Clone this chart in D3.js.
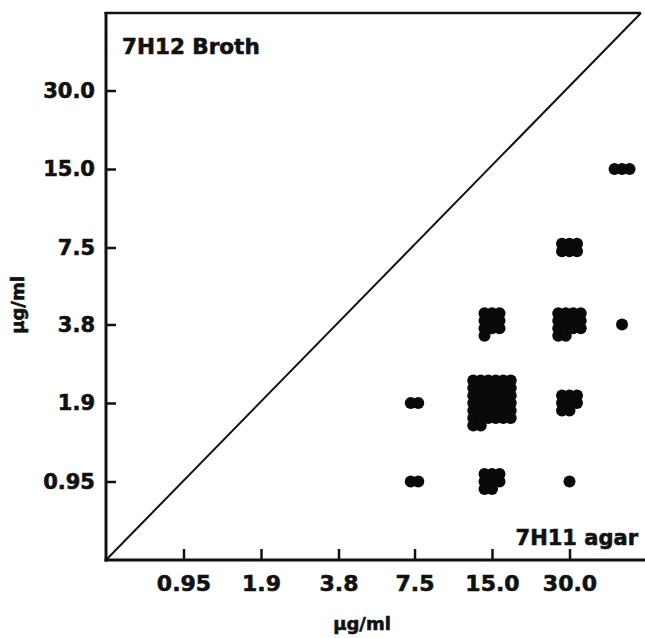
<!DOCTYPE html>
<html>
<head>
<meta charset="utf-8">
<script src="https://cdn.jsdelivr.net/npm/d3@7"></script>
<style>
  html, body { margin: 0; padding: 0; background: #fff; }
  svg { display: block; }
  text { font-family: "DejaVu Sans", "Liberation Sans", Arial, sans-serif; font-weight: bold; fill: #111; stroke: #111; stroke-width: 0.6px; }
</style>
</head>
<body>
<svg id="chart" width="645" height="638"></svg>
<script>
// ---- data ----
const tickValues = [0.95, 1.9, 3.8, 7.5, 15, 30];
const tickLabels = ["0.95", "1.9", "3.8", "7.5", "15.0", "30.0"];
// MIC pairs: agar (7H11) vs broth (7H12); 48 stands for ">30" on the agar axis
const agarMIC  = [7.5, 7.5, 15, 15, 15, 30, 30, 30, 30, 48, 48];
const brothMIC = [0.95, 1.9, 0.95, 1.9, 3.8, 0.95, 1.9, 3.8, 7.5, 3.8, 15];
const counts   = [2, 2, 8, 38, 10, 1, 8, 14, 6, 1, 3];
const gridCols = [2, 2, 3, 6, 3, 1, 3, 4, 3, 1, 3];

// ---- layout ----
const W = 645;
const plotL = 106, plotR = 641, plotT = 13, plotB = 560;
const svg = d3.select("#chart");

const x = d3.scaleLog().base(2).domain([0.475, 60]).range([106, 647]);
const y = d3.scaleLog().base(2).domain([0.475, 60]).range([560, 12]);

// frame
svg.append("line").attr("x1", plotL).attr("x2", plotL).attr("y1", plotT - 1).attr("y2", plotB + 1.5)
  .attr("stroke", "#111").attr("stroke-width", 3);
svg.append("line").attr("x1", plotL - 1.5).attr("x2", W).attr("y1", plotB).attr("y2", plotB)
  .attr("stroke", "#111").attr("stroke-width", 3);
svg.append("line").attr("x1", plotL - 1.5).attr("x2", plotR).attr("y1", plotT).attr("y2", plotT)
  .attr("stroke", "#111").attr("stroke-width", 2.5);
// diagonal
svg.append("line").attr("x1", plotL).attr("y1", plotB).attr("x2", plotR).attr("y2", plotT)
  .attr("stroke", "#111").attr("stroke-width", 2);

// axes
const xAxis = d3.axisBottom(x).tickValues(tickValues)
  .tickFormat((d, i) => tickLabels[i]).tickSizeInner(-11).tickSizeOuter(0).tickPadding(15);
const gx = svg.append("g").attr("transform", `translate(0,${plotB})`).call(xAxis);
gx.select(".domain").remove();
gx.selectAll(".tick line").attr("stroke", "#111").attr("stroke-width", 2.5);
gx.selectAll(".tick text").style("font-size", "22px").attr("fill", "#111");

const yAxis = d3.axisLeft(y).tickValues(tickValues)
  .tickFormat((d, i) => tickLabels[i]).tickSizeInner(-10).tickSizeOuter(0).tickPadding(11);
const gy = svg.append("g").attr("transform", `translate(${plotL},0)`).call(yAxis);
gy.select(".domain").remove();
gy.selectAll(".tick line").attr("stroke", "#111").attr("stroke-width", 2.5);
gy.selectAll(".tick text").style("font-size", "21px").attr("fill", "#111");

// points: each MIC pair drawn as a compact grid of dots
const step = 7.5, r = 6;
const dots = [];
agarMIC.forEach((a, k) => {
  const n = counts[k], cols = gridCols[k];
  const rows = Math.ceil(n / cols);
  for (let i = 0; i < n; i++) {
    const c = i % cols, rr = Math.floor(i / cols);
    dots.push({
      cx: x(a) + (c - (cols - 1) / 2) * step,
      cy: y(brothMIC[k]) + (rr - (rows - 1) / 2) * step
    });
  }
});
svg.append("g").selectAll("circle").data(dots).join("circle")
  .attr("cx", d => d.cx).attr("cy", d => d.cy).attr("r", r).attr("fill", "#0a0a0a");

// labels
svg.append("text").attr("x", 122).attr("y", 54).style("font-size", "21.5px").text("7H12 Broth");
svg.append("text").attr("x", 638).attr("y", 545).attr("text-anchor", "end").style("font-size", "21px").text("7H11 agar");
svg.append("text").attr("x", 362).attr("y", 630).attr("text-anchor", "middle").style("font-size", "18px").text("µg/ml");
svg.append("text").attr("transform", "translate(24,305) rotate(-90)").attr("text-anchor", "middle")
  .style("font-size", "18px").text("µg/ml");
</script>
</body>
</html>
